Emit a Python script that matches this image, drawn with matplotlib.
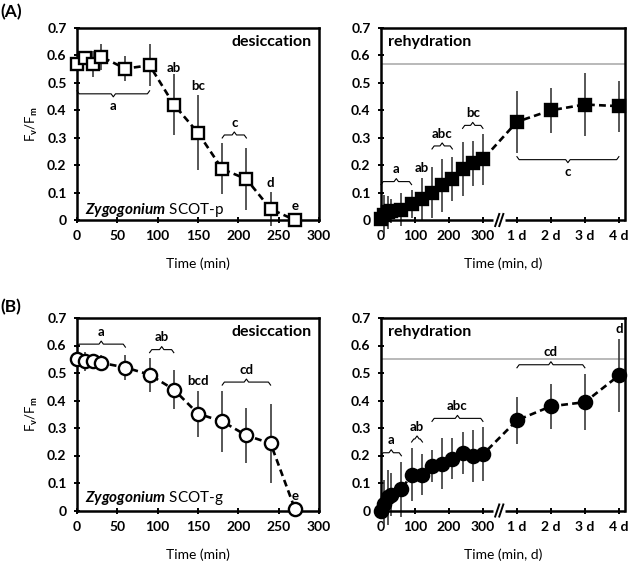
import matplotlib
matplotlib.use("Agg")
import matplotlib.pyplot as plt
import numpy as np

plt.rcParams['font.family'] = ['Lato', 'DejaVu Sans']
plt.rcParams['font.weight'] = 'bold'
plt.rcParams['mathtext.fontset'] = 'custom'
plt.rcParams['mathtext.rm'] = 'Lato:bold'
plt.rcParams['mathtext.it'] = 'Lato:italic'
plt.rcParams['mathtext.bf'] = 'Lato:bold'

# ---------------- data ----------------
# (A) Zygogonium SCOT-p
t_des_A = [0, 10, 20, 30, 60, 90, 120, 150, 180, 210, 240, 270]
fv_des_A = [0.568, 0.590, 0.568, 0.595, 0.552, 0.564, 0.421, 0.318, 0.186, 0.149, 0.040, 0.0]
sd_des_A = [0.010, 0.020, 0.047, 0.048, 0.045, 0.077, 0.112, 0.137, 0.093, 0.112, 0.063, 0.0]

t_reh_min = [0, 10, 20, 30, 60, 90, 120, 150, 180, 210, 240, 270, 300]
t_reh_day = [1, 2, 3, 4]
fv_reh_A_min = [0.005, 0.020, 0.028, 0.033, 0.038, 0.058, 0.076, 0.100, 0.127, 0.149, 0.186, 0.206, 0.221]
sd_reh_A_min = [0.0, 0.070, 0.060, 0.045, 0.060, 0.050, 0.076, 0.094, 0.097, 0.081, 0.100, 0.083, 0.094]
fv_reh_A_day = [0.358, 0.400, 0.421, 0.415]
sd_reh_A_day = [0.114, 0.081, 0.115, 0.093]
ref_A = 0.57

# (B) Zygogonium SCOT-g
t_des_B = [0, 10, 20, 30, 60, 90, 120, 150, 180, 210, 240, 270]
fv_des_B = [0.550, 0.543, 0.543, 0.537, 0.520, 0.494, 0.440, 0.352, 0.324, 0.273, 0.244, 0.007]
sd_des_B = [0.010, 0.034, 0.020, 0.030, 0.045, 0.062, 0.070, 0.083, 0.110, 0.100, 0.143, 0.0]

fv_reh_B_min = [0.0, 0.025, 0.048, 0.058, 0.077, 0.130, 0.130, 0.161, 0.170, 0.188, 0.209, 0.198, 0.204]
sd_reh_B_min = [0.0, 0.086, 0.100, 0.078, 0.100, 0.097, 0.075, 0.059, 0.093, 0.075, 0.075, 0.096, 0.098]
fv_reh_B_day = [0.328, 0.379, 0.394, 0.491]
sd_reh_B_day = [0.086, 0.081, 0.102, 0.134]
ref_B = 0.55

# tick labels
y_ticks = [0, 0.1, 0.2, 0.3, 0.4, 0.5, 0.6, 0.7]
y_ticklabels = ['0', '0.1', '0.2', '0.3', '0.4', '0.5', '0.6', '0.7']
des_ticks = [0, 50, 100, 150, 200, 250, 300]
reh_min_ticks = [0, 100, 200, 300]
reh_day_labels = ['1 d', '2 d', '3 d', '4 d']

# significance letters: braces (x0, x1, y, label, side) and single letters (x, y, label)
braces_des_A = [(0, 90, 0.46, 'a', 'down'), (180, 210, 0.31, 'c', 'up')]
letters_des_A = [(120, 0.555, 'ab'), (150, 0.49, 'bc'), (240, 0.135, 'd'), (270, 0.05, 'e')]
braces_reh_A = [(0, 90, 0.14, 'a', 'up'), (150, 210, 0.27, 'abc', 'up'),
                (240, 300, 0.345, 'bc', 'up'), (400, 700, 0.22, 'c', 'down')]
letters_reh_A = [(120, 0.19, 'ab')]
braces_des_B = [(0, 60, 0.605, 'a', 'up'), (90, 120, 0.585, 'ab', 'up'), (180, 240, 0.467, 'cd', 'up')]
letters_des_B = [(150, 0.47, 'bcd'), (270, 0.054, 'e')]
braces_reh_B = [(0, 60, 0.21, 'a', 'up'), (90, 122, 0.26, 'ab', 'up'),
                (150, 300, 0.335, 'abc', 'up'), (400, 600, 0.53, 'cd', 'up')]
letters_reh_B = [(700, 0.66, 'd')]

DAY_OFFSET = 300
DAY_STEP = 100


def day_pos(days):
    return [DAY_OFFSET + DAY_STEP * d for d in days]


# ---------------- figure ----------------
W, H = 640, 564
fig = plt.figure(figsize=(W / 100, H / 100), dpi=100)


def px_axes(x0, x1, ytop, ybot):
    return fig.add_axes([x0 / W, 1 - ybot / H, (x1 - x0) / W, (ybot - ytop) / H])


axA1 = px_axes(77, 319, 28, 220)
axA2 = px_axes(381, 625, 28, 220)
axB1 = px_axes(77, 319, 318, 510.5)
axB2 = px_axes(381, 625, 318, 510.5)

ECOL = '#3a3a3a'
TXT = 9.5


def style(ax, ylabel):
    for s in ax.spines.values():
        s.set_linewidth(1.8)
    ax.set_ylim(0, 0.7)
    ax.set_yticks(y_ticks)
    ax.set_yticklabels(y_ticklabels)
    ax.tick_params(direction='inout', length=5, width=1.4, labelsize=10, pad=5)
    if ylabel:
        ax.set_ylabel(r'F$_\mathrm{v}$/F$_\mathrm{m}$', fontsize=9.5, labelpad=5)


def draw_series(ax, x, y, sd, marker, face):
    eb = ax.errorbar(x, y, yerr=sd, fmt='none', ecolor=ECOL, elinewidth=1.2, capsize=0, zorder=2)
    for c in eb.lines[2]:
        c.set_clip_on(False)
    ax.plot(x, y, color='black', lw=1.9, ls=(0, (2.6, 1.6)), zorder=3, clip_on=False)
    ax.plot(x, y, ls='none', marker=marker, ms=9 if marker == 's' else 9.5,
            mfc=face, mec='black', mew=1.7, zorder=4, clip_on=False)


def brace(ax, x0, x1, y, label, side):
    xmin, xmax = ax.get_xlim()
    d = 0.009 * (xmax - xmin)
    h = 0.011
    sgn = 1 if side == 'up' else -1
    xm = 0.5 * (x0 + x1)
    xs = [x0, x0 + d, xm - d, xm, xm + d, x1 - d, x1]
    ys = [y - sgn * h, y, y, y + sgn * h, y, y, y - sgn * h]
    ax.plot(xs, ys, color='black', lw=0.8, zorder=5, clip_on=False)
    ty = y + sgn * 0.045
    ax.text(xm, ty, label, ha='center', va='center', fontsize=TXT, fontweight='bold')


def letters(ax, lst):
    for x, y, lab in lst:
        ax.text(x, y, lab, ha='center', va='center', fontsize=TXT, fontweight='bold')


def desiccation_panel(ax, t, fv, sd, marker, braces, lets, species):
    ax.set_xlim(0, 300)
    style(ax, True)
    ax.set_xticks(des_ticks)
    draw_series(ax, t, fv, sd, marker, 'white')
    for b in braces:
        brace(ax, *b)
    letters(ax, lets)
    ax.set_xlabel('Time (min)', fontsize=10, labelpad=11)
    ax.text(0.97, 0.925, 'desiccation', transform=ax.transAxes, ha='right', va='center',
            fontsize=11.5, fontweight='bold')
    ax.text(0.035, species[1], r'$\mathit{Zygogonium}$ SCOT-' + species[0], transform=ax.transAxes,
            ha='left', va='center', fontsize=11, fontweight='normal')


def rehydration_panel(ax, fvm, sdm, fvd, sdd, marker, ref, braces, lets):
    ax.set_xlim(0, 718)
    style(ax, False)
    xs = list(t_reh_min) + day_pos(t_reh_day)
    ax.set_xticks(list(reh_min_ticks) + day_pos(t_reh_day))
    ax.set_xticklabels([str(v) for v in reh_min_ticks] + reh_day_labels)
    ax.axhline(ref, color='#a6a6a6', lw=1.1, zorder=1)
    draw_series(ax, xs, list(fvm) + list(fvd), list(sdm) + list(sdd), marker, 'black')
    for b in braces:
        brace(ax, *b)
    letters(ax, lets)
    # broken x axis
    ax.spines['bottom'].set_visible(False)
    gap0, gap1 = 330, 366
    ax.plot([0, gap0], [0, 0], color='black', lw=1.8, clip_on=False, zorder=6, solid_capstyle='butt')
    ax.plot([gap1, 718], [0, 0], color='black', lw=1.8, clip_on=False, zorder=6, solid_capstyle='butt')
    for dx in (-6, 6):
        xc = 0.5 * (gap0 + gap1) + dx
        ax.plot([xc - 6, xc + 6], [-0.022, 0.022], color='black', lw=1.4, clip_on=False, zorder=6)
    ax.set_xlabel('Time (min, d)', fontsize=10, labelpad=11)
    ax.text(0.03, 0.925, 'rehydration', transform=ax.transAxes, ha='left', va='center',
            fontsize=11.5, fontweight='bold')


desiccation_panel(axA1, t_des_A, fv_des_A, sd_des_A, 's', braces_des_A, letters_des_A, ('p', 0.05))
rehydration_panel(axA2, fv_reh_A_min, sd_reh_A_min, fv_reh_A_day, sd_reh_A_day, 's', ref_A,
                  braces_reh_A, letters_reh_A)
desiccation_panel(axB1, t_des_B, fv_des_B, sd_des_B, 'o', braces_des_B, letters_des_B, ('g', 0.065))
rehydration_panel(axB2, fv_reh_B_min, sd_reh_B_min, fv_reh_B_day, sd_reh_B_day, 'o', ref_B,
                  braces_reh_B, letters_reh_B)

fig.text(0.0, 1 - 12.5 / H, '(A)', ha='left', va='center', fontsize=12.5, fontweight='bold')
fig.text(0.0, 1 - 307 / H, '(B)', ha='left', va='center', fontsize=12.5, fontweight='bold')

fig.savefig('out.png', dpi=100)
